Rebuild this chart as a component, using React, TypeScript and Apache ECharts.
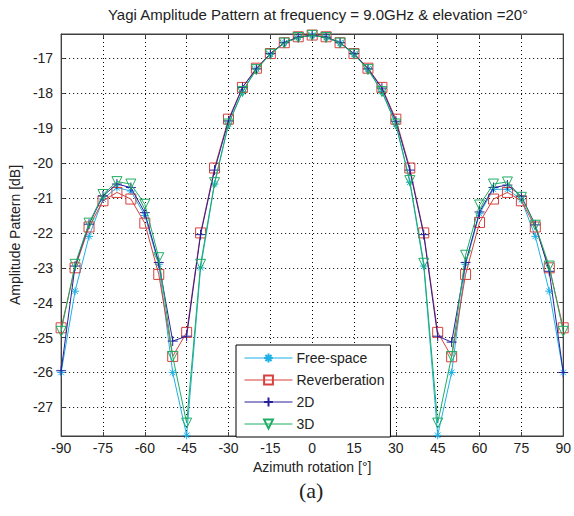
import React, { useEffect, useRef } from "react";
import * as echarts from "echarts";

const angles = [-90, -85, -80, -75, -70, -65, -60, -55, -50, -45, -40, -35, -30, -25, -20, -15, -10, -5, 0, 5, 10, 15, 20, 25, 30, 35, 40, 45, 50, 55, 60, 65, 70, 75, 80, 85, 90];

const freeSpace = [-26.0, -23.67, -22.1, -21.03, -20.7, -20.8, -21.5, -22.9, -26.0, -27.8, -23.0, -20.6, -18.88, -17.95, -17.3, -16.88, -16.55, -16.4, -16.34, -16.4, -16.55, -16.88, -17.3, -17.95, -18.88, -20.55, -22.95, -27.8, -26.0, -22.9, -21.45, -20.75, -20.75, -21.05, -22.1, -23.67, -26.0];

const reverberation = [-24.72, -23.0, -21.83, -21.08, -20.84, -21.03, -21.72, -23.19, -25.54, -24.85, -22.0, -20.14, -18.74, -17.83, -17.28, -16.86, -16.55, -16.38, -16.33, -16.38, -16.55, -16.86, -17.28, -17.83, -18.74, -20.14, -22.0, -24.85, -25.55, -23.19, -21.7, -21.03, -20.84, -21.08, -21.83, -23.0, -24.72];

const twoD = [-25.95, -22.95, -21.75, -20.94, -20.6, -20.7, -21.42, -22.85, -25.1, -24.96, -22.05, -20.2, -18.79, -17.83, -17.3, -16.86, -16.55, -16.39, -16.34, -16.39, -16.55, -16.86, -17.3, -17.85, -18.8, -20.2, -22.05, -24.96, -25.13, -22.85, -21.4, -20.7, -20.63, -20.95, -21.77, -23.1, -26.0];

const threeD = [-24.82, -22.9, -21.72, -20.9, -20.53, -20.6, -21.18, -22.71, -25.54, -27.45, -22.9, -20.56, -18.88, -17.95, -17.32, -16.88, -16.56, -16.4, -16.34, -16.4, -16.56, -16.88, -17.32, -17.95, -18.88, -20.5, -22.87, -27.45, -25.54, -22.64, -21.2, -20.6, -20.54, -20.98, -21.78, -22.95, -24.82];

const seriesNames = ["Free-space", "Reverberation", "2D", "3D"];
const titleText = "Yagi Amplitude Pattern at frequency = 9.0GHz & elevation =20°";
const xLabel = "Azimuth rotation [°]";
const yLabel = "Amplitude Pattern [dB]";
const caption = "(a)";

const FONT = "'Liberation Sans', Arial, sans-serif";

const SYM_STAR = "path://M5,0L5,10M0,5L10,5M1.5,1.5L8.5,8.5M1.5,8.5L8.5,1.5";
const SYM_SQUARE = "path://M0,0L10,0L10,10L0,10Z";
const SYM_PLUS = "path://M5,0L5,10M0,5L10,5";
const SYM_TRI = "path://M0,0L10,0L5,9Z";

export default function App() {
  const ref = useRef<HTMLDivElement>(null);
  useEffect(() => {
    if (!ref.current) return;
    const chart = echarts.init(ref.current, undefined, { renderer: "svg" });
    const mk = (name: string, vals: number[], color: string, symbol: string, size: number, z: number) => ({
      name,
      type: "line",
      data: angles.map((a, i) => [a, vals[i]]),
      symbol,
      symbolSize: size,
      showSymbol: true,
      z,
      lineStyle: { color, width: 1 },
      itemStyle: { color: "none", borderColor: color, borderWidth: 1 },
      emphasis: { disabled: true },
    });
    const axisLineStyle = { color: "#404040", width: 1 };
    chart.setOption({
      animation: false,
      backgroundColor: "#fff",
      title: {
        text: titleText,
        left: 313,
        textAlign: "center",
        top: 2,
        textStyle: { fontFamily: FONT, fontSize: 15, fontWeight: "normal", color: "#222" },
      },
      graphic: [
        {
          type: "text",
          left: 299,
          top: 479,
          style: { text: caption, font: "22px 'Liberation Serif', 'Times New Roman', serif", fill: "#222" },
        },
      ],
      legend: {
        data: seriesNames,
        orient: "vertical",
        left: 236,
        top: 345,
        padding: [6, 6, 6, 8],
        itemWidth: 48,
        itemHeight: 11,
        itemGap: 8,
        backgroundColor: "#fff",
        borderColor: "#000",
        borderWidth: 1,
        borderRadius: 0,
        lineStyle: { width: 1 },
        textStyle: { fontFamily: FONT, fontSize: 14, color: "#222", lineHeight: 14, padding: [0, 0, 0, -1] },
      },
      grid: {
        left: 60,
        right: 7,
        top: 34,
        bottom: 80,
        show: true,
        borderColor: "#404040",
        borderWidth: 1,
        backgroundColor: "#fff",
      },
      xAxis: [
        {
          type: "value",
          min: -90,
          max: 90,
          interval: 15,
          name: xLabel,
          nameLocation: "middle",
          nameGap: 24,
          nameTextStyle: { fontFamily: FONT, fontSize: 14, color: "#222" },
          axisLine: { show: true, onZero: false, lineStyle: axisLineStyle },
          axisTick: { show: true, inside: true, length: 4, lineStyle: axisLineStyle },
          axisLabel: { fontFamily: FONT, fontSize: 14, color: "#222", margin: 5 },
          splitLine: { show: true, lineStyle: { color: "#000", type: [1, 3], width: 1 } },
        },
        {
          type: "value",
          position: "top",
          min: -90,
          max: 90,
          interval: 15,
          axisLine: { show: true, onZero: false, lineStyle: axisLineStyle },
          axisTick: { show: true, inside: true, length: 4, lineStyle: axisLineStyle },
          axisLabel: { show: false },
          splitLine: { show: false },
        },
      ],
      yAxis: [
        {
          type: "value",
          min: -27.82,
          max: -16.3,
          splitNumber: 11,
          name: yLabel,
          nameLocation: "middle",
          nameGap: 38,
          nameTextStyle: { fontFamily: FONT, fontSize: 14, color: "#222" },
          axisLine: { show: true, onZero: false, lineStyle: axisLineStyle },
          axisTick: { show: true, inside: true, length: 4, lineStyle: axisLineStyle },
          axisLabel: { fontFamily: FONT, fontSize: 14, color: "#222", margin: 8, showMinLabel: false, showMaxLabel: false },
          splitLine: { show: true, lineStyle: { color: "#000", type: [1, 3], width: 1 } },
        },
        {
          type: "value",
          position: "right",
          min: -27.82,
          max: -16.3,
          splitNumber: 11,
          axisLine: { show: true, onZero: false, lineStyle: axisLineStyle },
          axisTick: { show: true, inside: true, length: 4, lineStyle: axisLineStyle },
          axisLabel: { show: false },
          splitLine: { show: false },
        },
      ],
      series: [
        mk(seriesNames[0], freeSpace, "#1fb0e6", SYM_STAR, 8, 2),
        mk(seriesNames[1], reverberation, "#d8403c", SYM_SQUARE, 10, 3),
        mk(seriesNames[2], twoD, "#26209a", SYM_PLUS, 10, 4),
        mk(seriesNames[3], threeD, "#1ead62", SYM_TRI, 10, 5),
      ],
    });
    return () => chart.dispose();
  }, []);
  return <div ref={ref} style={{ position: "fixed", left: 0, top: 0, width: 574, height: 516 }} />;
}
